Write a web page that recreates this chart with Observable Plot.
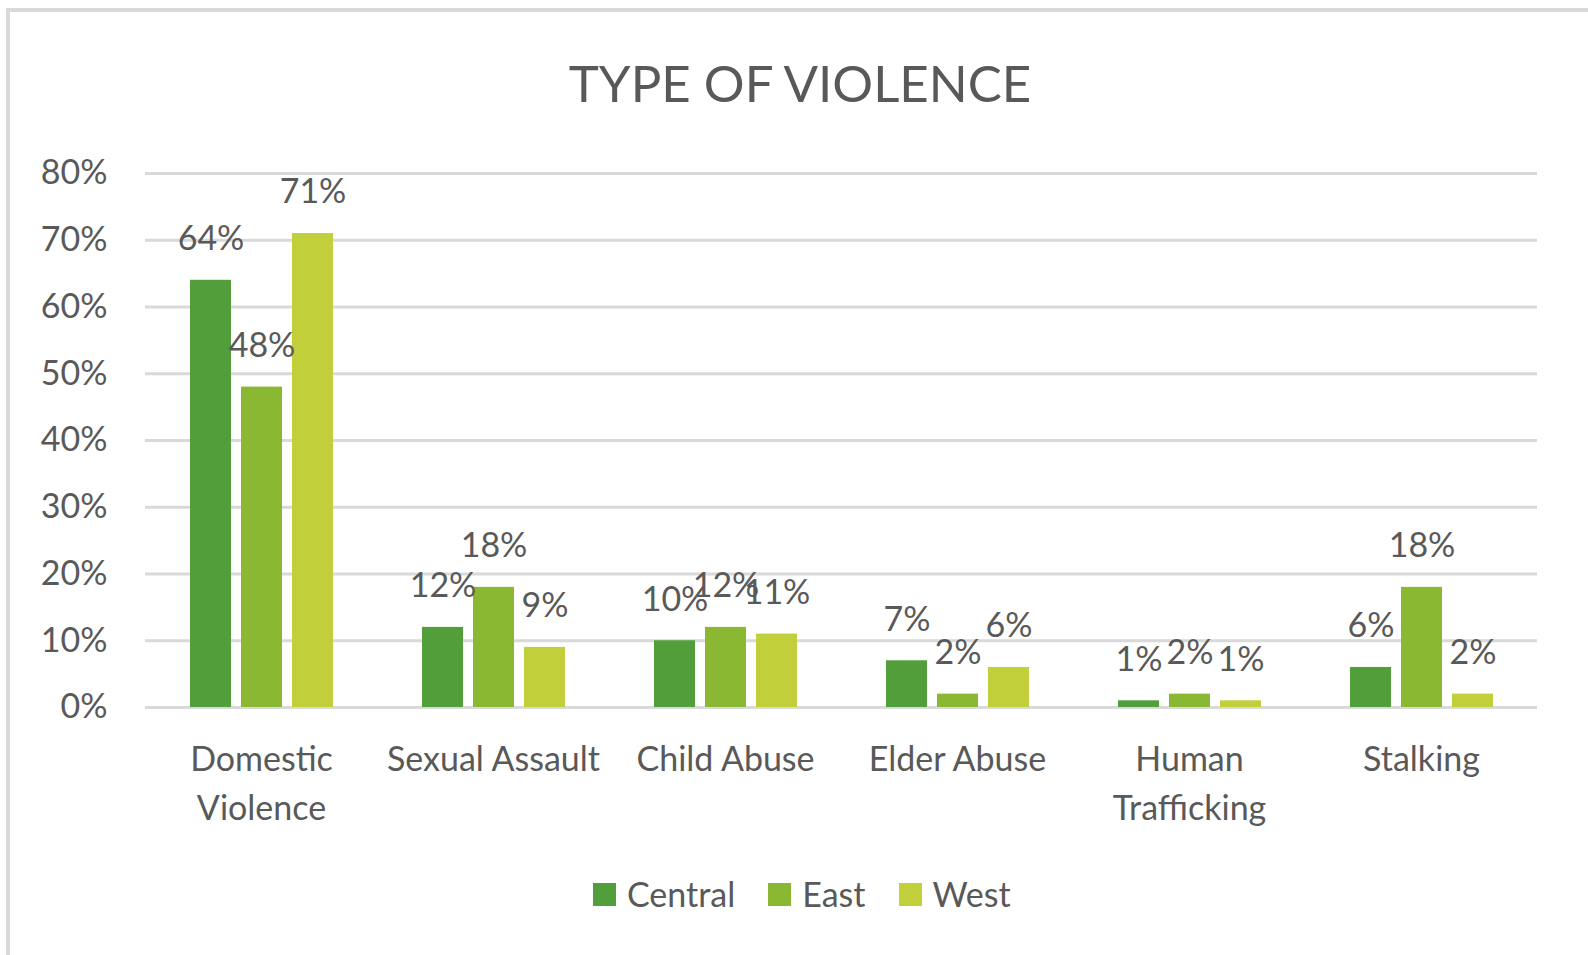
<!DOCTYPE html>
<html>
<head>
<meta charset="utf-8">
<script src="https://cdn.jsdelivr.net/npm/d3@7"></script>
<script src="https://cdn.jsdelivr.net/npm/@observablehq/plot@0.6"></script>
<style>
  html, body { margin: 0; padding: 0; background: #fff; overflow: hidden; width: 1588px; height: 955px; }
  #frame { position: absolute; left: 6px; top: 8px; width: 1586px; height: 1000px; border: 4px solid #d9d9d9; box-sizing: border-box; }
  #title { position: absolute; left: 0; top: 57px; width: 1600px; text-align: center; font-family: Lato, sans-serif; font-size: 51px; line-height: 52px; color: #595959; }
  #chart { position: absolute; left: 0; top: 120px; }
  #legend { position: absolute; left: 593px; top: 872px; display: flex; align-items: center; font-family: Lato, sans-serif; font-size: 34px; color: #595959; line-height: 44px; }
  .item { display: flex; align-items: center; margin-right: 33px; }
  .sw { width: 23px; height: 23px; margin-right: 11px; }
</style>
</head>
<body>
<div id="frame"></div>
<div id="title">TYPE OF VIOLENCE</div>
<div id="chart"></div>
<div id="legend"></div>
<script>
const categories = ["Domestic Violence", "Sexual Assault", "Child Abuse", "Elder Abuse", "Human Trafficking", "Stalking"];
const categoryLabels = ["Domestic\nViolence", "Sexual Assault", "Child Abuse", "Elder Abuse", "Human\nTrafficking", "Stalking"];
const seriesNames = ["Central", "East", "West"];
const seriesColors = ["#519e3a", "#8ab833", "#c0cf3a"];
const central = [64, 12, 10, 7, 1, 6];
const east = [48, 18, 12, 2, 2, 18];
const west = [71, 9, 11, 6, 1, 2];
const yTicks = [0, 10, 20, 30, 40, 50, 60, 70, 80];

const seriesValues = [central, east, west];
const data = categories.flatMap((c, i) =>
  seriesNames.map((s, j) => ({category: c, series: s, value: seriesValues[j][i]}))
);

const chart = Plot.plot({
  width: 1588,
  height: 717,
  marginLeft: 143,
  marginRight: 49,
  marginTop: 53,
  marginBottom: 130,
  style: {fontFamily: "Lato, sans-serif", fontSize: "34px", color: "#595959", background: "transparent", overflow: "visible"},
  fx: {domain: categories, padding: 0, axis: null, label: null},
  x: {domain: seriesNames, paddingInner: 0.2, paddingOuter: 0.86, axis: null},
  y: {domain: [0, 80], axis: null},
  color: {domain: seriesNames, range: seriesColors},
  marks: [
    Plot.ruleY(yTicks, {stroke: "#d9d9d9", strokeWidth: 3}),
    Plot.barY(data, {fx: "category", x: "series", y: "value", fill: "series"}),
    Plot.text(data, {fx: "category", x: "series", y: "value", text: d => `${d.value}%`, dy: -41, fontSize: 34, fill: "#595959"}),
    Plot.axisY({ticks: yTicks, tickFormat: d => d + "%", tickSize: 0, tickPadding: 38, label: null, fontSize: 34}),
    Plot.axisFx({anchor: "bottom", tickSize: 0, tickPadding: 29, label: null, fontSize: 34, lineHeight: 1.44,
      tickFormat: c => categoryLabels[categories.indexOf(c)]})
  ]
});
document.getElementById("chart").appendChild(chart);

const legend = document.getElementById("legend");
seriesNames.forEach((s, i) => {
  const item = document.createElement("div");
  item.className = "item";
  const sw = document.createElement("div");
  sw.className = "sw";
  sw.style.background = seriesColors[i];
  const t = document.createElement("span");
  t.textContent = s;
  item.appendChild(sw);
  item.appendChild(t);
  legend.appendChild(item);
});
</script>
</body>
</html>
